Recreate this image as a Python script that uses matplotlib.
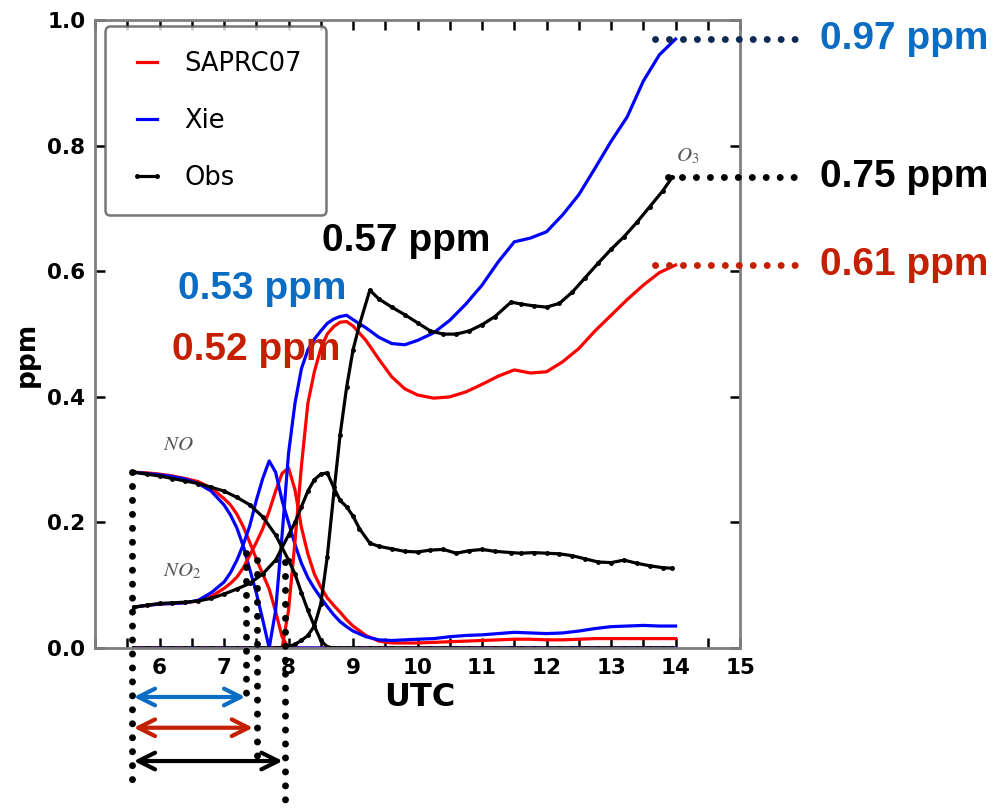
import matplotlib
matplotlib.use('Agg')
from matplotlib import pyplot as plt
from matplotlib.ticker import MultipleLocator, FormatStrFormatter

plt.rcParams['mathtext.fontset'] = 'stix'

# model output time grid (UTC hours)
t_model = [5.6, 5.8, 6.0, 6.2, 6.4, 6.6, 6.8, 7.0, 7.1, 7.2, 7.3, 7.4, 7.5, 7.6, 7.7, 7.8, 7.9,
           8.0, 8.1, 8.2, 8.3, 8.4, 8.5, 8.6, 8.7, 8.8, 8.9, 9.0, 9.2, 9.4, 9.6, 9.8, 10.0,
           10.25, 10.5, 10.75, 11.0, 11.25, 11.5, 11.75, 12.0, 12.25, 12.5, 12.75, 13.0,
           13.25, 13.5, 13.75, 14.0]

# SAPRC07 mechanism (ppm)
saprc_no = [0.280, 0.279, 0.277, 0.274, 0.270, 0.265, 0.255, 0.238, 0.228, 0.213, 0.193, 0.168,
            0.142, 0.118, 0.094, 0.058, 0.018, 0.0, 0.0, 0.0, 0.0, 0.0, 0.0, 0.0, 0.0, 0.0, 0.0,
            0.0, 0.0, 0.0, 0.0, 0.0, 0.0, 0.0, 0.0, 0.0, 0.0, 0.0, 0.0, 0.0, 0.0, 0.0, 0.0, 0.0,
            0.0, 0.0, 0.0, 0.0, 0.0]
saprc_no2 = [0.065, 0.068, 0.070, 0.071, 0.072, 0.075, 0.082, 0.095, 0.103, 0.113, 0.128, 0.148,
             0.168, 0.190, 0.218, 0.250, 0.278, 0.287, 0.252, 0.192, 0.150, 0.118, 0.097, 0.080,
             0.068, 0.057, 0.045, 0.035, 0.020, 0.011, 0.008, 0.008, 0.008, 0.009, 0.010, 0.011,
             0.012, 0.013, 0.014, 0.014, 0.013, 0.013, 0.014, 0.015, 0.015, 0.015, 0.015, 0.015,
             0.015]
saprc_o3 = [0.0, 0.0, 0.0, 0.0, 0.0, 0.0, 0.0, 0.0, 0.0, 0.0, 0.0, 0.0, 0.0, 0.0, 0.0, 0.0, 0.0,
            0.060, 0.170, 0.290, 0.390, 0.440, 0.477, 0.500, 0.512, 0.519, 0.520, 0.513, 0.490,
            0.460, 0.432, 0.413, 0.403, 0.398, 0.400, 0.408, 0.420, 0.433, 0.443, 0.438, 0.440,
            0.456, 0.477, 0.505, 0.530, 0.555, 0.578, 0.598, 0.610]

# Xie mechanism (ppm)
xie_no = [0.280, 0.278, 0.276, 0.273, 0.269, 0.262, 0.250, 0.228, 0.212, 0.191, 0.162, 0.125,
          0.088, 0.045, 0.0, 0.0, 0.0, 0.0, 0.0, 0.0, 0.0, 0.0, 0.0, 0.0, 0.0, 0.0, 0.0, 0.0,
          0.0, 0.0, 0.0, 0.0, 0.0, 0.0, 0.0, 0.0, 0.0, 0.0, 0.0, 0.0, 0.0, 0.0, 0.0, 0.0, 0.0,
          0.0, 0.0, 0.0, 0.0]
xie_no2 = [0.065, 0.068, 0.070, 0.071, 0.072, 0.076, 0.088, 0.105, 0.120, 0.140, 0.165, 0.195,
           0.235, 0.270, 0.298, 0.280, 0.235, 0.200, 0.165, 0.135, 0.112, 0.095, 0.080, 0.066,
           0.053, 0.042, 0.034, 0.027, 0.018, 0.013, 0.012, 0.013, 0.014, 0.015, 0.018, 0.020,
           0.021, 0.023, 0.025, 0.024, 0.023, 0.024, 0.027, 0.031, 0.034, 0.035, 0.036, 0.035,
           0.035]
xie_o3 = [0.0, 0.0, 0.0, 0.0, 0.0, 0.0, 0.0, 0.0, 0.0, 0.0, 0.0, 0.0, 0.0, 0.0, 0.0, 0.060,
          0.180, 0.310, 0.390, 0.445, 0.475, 0.492, 0.505, 0.517, 0.524, 0.528, 0.530, 0.523,
          0.510, 0.495, 0.485, 0.483, 0.490, 0.502, 0.522, 0.548, 0.578, 0.615, 0.647, 0.653,
          0.663, 0.690, 0.722, 0.764, 0.807, 0.846, 0.903, 0.945, 0.970]

# observations (ppm)
t_obs = [5.6, 5.8, 6.0, 6.2, 6.4, 6.6, 6.8, 7.0, 7.2, 7.4, 7.6, 7.8, 8.0, 8.1, 8.2, 8.3, 8.4,
         8.5, 8.6, 8.7, 8.8, 8.9, 9.0, 9.1, 9.26, 9.4, 9.6, 9.8, 10.0, 10.2, 10.4, 10.6, 10.8,
         11.0, 11.2, 11.45, 11.6, 11.8, 12.0, 12.2, 12.4, 12.6, 12.8, 13.0, 13.2, 13.4, 13.6,
         13.8, 13.95]
obs_no = [0.280, 0.277, 0.274, 0.270, 0.266, 0.262, 0.256, 0.250, 0.240, 0.228, 0.209, 0.180,
          0.140, 0.118, 0.088, 0.060, 0.035, 0.012, 0.002, 0.0, 0.0, 0.0, 0.0, 0.0, 0.0, 0.0,
          0.0, 0.0, 0.0, 0.0, 0.0, 0.0, 0.0, 0.0, 0.0, 0.0, 0.0, 0.0, 0.0, 0.0, 0.0, 0.0, 0.0,
          0.0, 0.0, 0.0, 0.0, 0.0, 0.0]
obs_no2 = [0.065, 0.068, 0.071, 0.072, 0.073, 0.075, 0.079, 0.086, 0.094, 0.103, 0.118, 0.140,
           0.180, 0.200, 0.225, 0.250, 0.268, 0.277, 0.279, 0.256, 0.235, 0.225, 0.210, 0.190,
           0.167, 0.162, 0.158, 0.154, 0.153, 0.156, 0.157, 0.151, 0.155, 0.157, 0.154, 0.152,
           0.151, 0.152, 0.151, 0.150, 0.147, 0.142, 0.137, 0.136, 0.140, 0.135, 0.131, 0.128,
           0.127]
obs_o3 = [0.0, 0.0, 0.0, 0.0, 0.0, 0.0, 0.0, 0.0, 0.0, 0.0, 0.0, 0.0, 0.002, 0.006, 0.012,
          0.020, 0.035, 0.070, 0.145, 0.245, 0.340, 0.415, 0.475, 0.515, 0.570, 0.556, 0.543,
          0.531, 0.518, 0.505, 0.500, 0.500, 0.505, 0.515, 0.528, 0.551, 0.548, 0.545, 0.543,
          0.549, 0.567, 0.590, 0.613, 0.635, 0.655, 0.678, 0.703, 0.728, 0.750]

# time spans from start until NO2 overtakes NO (UTC)
span_start = 5.6
span_end = {'xie': 7.33, 'saprc': 7.45, 'obs': 7.91}

c_red = '#ff0000'
c_blue = '#0000ff'
c_txt_blue = '#0b6cc4'
c_txt_red = '#c42000'
c_navy = '#0d2a55'

fig = plt.figure(figsize=(9.97, 8.08), dpi=100)
ax = fig.add_axes([0.0953, 0.198, 0.647, 0.777])

lw = 2.3
for i, (y_s, y_x) in enumerate([(saprc_no, xie_no), (saprc_no2, xie_no2), (saprc_o3, xie_o3)]):
    ax.plot(t_model, y_s, color=c_red, lw=lw, label='SAPRC07' if i == 0 else None)
    ax.plot(t_model, y_x, color=c_blue, lw=lw, label='Xie' if i == 0 else None)
for i, y_o in enumerate([obs_no, obs_no2, obs_o3]):
    ax.plot(t_obs, y_o, color='black', lw=lw, marker='.', ms=5,
            label='Obs' if i == 0 else None)

ax.set_xlim(5, 15)
ax.set_ylim(0, 1.0)
ax.xaxis.set_major_locator(MultipleLocator(1))
ax.xaxis.set_minor_locator(MultipleLocator(0.5))
ax.yaxis.set_major_locator(MultipleLocator(0.2))
ax.yaxis.set_major_formatter(FormatStrFormatter('%.1f'))
ax.set_xticks(range(6, 16))
ax.tick_params(which='both', direction='in', top=True, right=True, length=7, width=1.8,
               labelsize=15.5, pad=7)
for lab in ax.get_xticklabels() + ax.get_yticklabels():
    lab.set_fontweight('bold')
for sp in ax.spines.values():
    sp.set_color('#7f7f7f')
    sp.set_linewidth(2)

ax.set_xlabel('UTC', fontsize=23, fontweight='bold')
ax.xaxis.set_label_coords(0.504, -0.054)
ax.set_ylabel('ppm', fontsize=19, fontweight='bold')
ax.yaxis.set_label_coords(-0.085, 0.467)

leg = ax.legend(loc='upper left', bbox_to_anchor=(0.015, 0.99), borderaxespad=0,
                fontsize=18.5, numpoints=2, handlelength=1.4, handletextpad=0.75,
                labelspacing=1.2, borderpad=0.95, fancybox=True)
leg.get_frame().set_edgecolor('#555555')
leg.get_frame().set_linewidth(1.8)

# species names
ax.text(6.05, 0.315, r'$NO$', fontsize=15, color='#555555')
ax.text(6.05, 0.115, r'$NO_2$', fontsize=15, color='#555555')
ax.text(14.0, 0.775, r'$O_3$', fontsize=15, color='#555555')

# dotted guides
dot = dict(lw=5, linestyle=(0, (0.01, 2.0)), dash_capstyle='round', clip_on=False, zorder=5)
ax.plot([5.57, 5.57], [obs_no[0], -0.226], color='black', **dot)
ax.plot([7.34, 7.34], [0.151, -0.083], color='black', **dot)
ax.plot([7.51, 7.51], [0.140, -0.178], color='black', **dot)
ax.plot([7.95, 7.95], [0.137, -0.250], color='black', **dot)
ax.plot([13.68, 15.98], [xie_o3[-1], xie_o3[-1]], color=c_navy, **dot)
ax.plot([13.88, 15.93], [obs_o3[-1], obs_o3[-1]], color='black', **dot)
ax.plot([13.68, 15.98], [saprc_o3[-1], saprc_o3[-1]], color=c_txt_red, **dot)

# double arrows for the NO/NO2 crossover time
for key, yy, col in [('xie', -0.078, c_txt_blue), ('saprc', -0.127, c_txt_red),
                     ('obs', -0.180, 'black')]:
    ax.annotate('', xy=(span_end[key], yy), xytext=(span_start, yy),
                arrowprops=dict(arrowstyle='<->', color=col, lw=3, mutation_scale=30,
                                shrinkA=0, shrinkB=0),
                annotation_clip=False)

# value labels: final and peak ozone
lab = dict(fontsize=28, fontweight='bold', family='Liberation Sans', va='center',
           clip_on=False)
ax.text(16.24, xie_o3[-1], '%.2f ppm' % xie_o3[-1], color=c_txt_blue, **lab)
ax.text(16.24, obs_o3[-1], '%.2f ppm' % obs_o3[-1], color='black', **lab)
ax.text(16.24, saprc_o3[-1], '%.2f ppm' % saprc_o3[-1], color=c_txt_red, **lab)
ax.text(8.52, 0.648, '%.2f ppm' % max(obs_o3[:30]), color='black', **lab)
ax.text(6.29, 0.572, '%.2f ppm' % max(xie_o3[:30]), color=c_txt_blue, **lab)
ax.text(6.19, 0.475, '%.2f ppm' % max(saprc_o3[:30]), color=c_txt_red, **lab)

fig.savefig('out.png', dpi=100)
